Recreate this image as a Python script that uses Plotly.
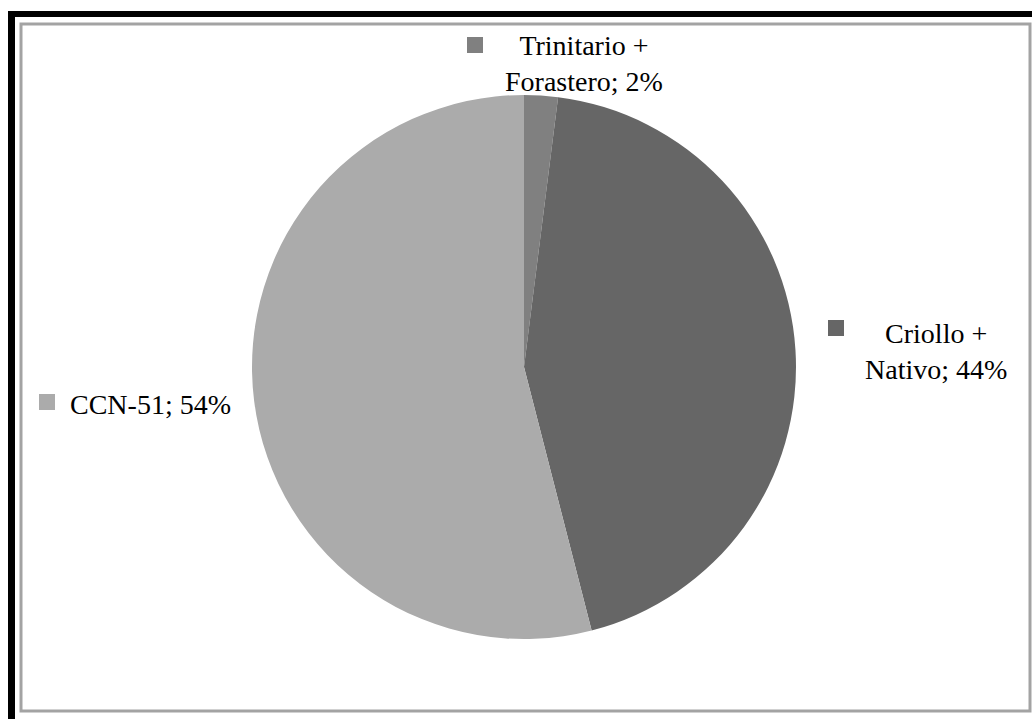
import plotly.graph_objects as go

# Cocoa variety shares
varieties = ["Trinitario +<br>Forastero", "Criollo +<br>Nativo", "CCN-51"]
shares = [2, 44, 54]
slice_colors = ["#808080", "#666666", "#ababab"]

W, H = 1032, 719


def px(x):
    return x / W


def py(y):
    return 1 - y / H


fig = go.Figure(
    go.Pie(
        labels=varieties,
        values=shares,
        sort=False,
        direction="clockwise",
        rotation=0,
        marker=dict(colors=slice_colors, line=dict(width=0)),
        textinfo="none",
        hoverinfo="label+percent",
        domain=dict(x=[px(524 - 272), px(524 + 272)], y=[py(367 + 272), py(367 - 272)]),
        showlegend=False,
    )
)

font = dict(family="Liberation Serif, Times New Roman, serif", size=28, color="#000000")

# label placement: (text x, block centre y, align, key square centre x, key centre y)
label_pos = [
    (584, 64, "center", 475, 45),
    (936, 352, "center", 836, 328),
    (68, 404, "left", 47, 402),
]

shapes = [
    # outer dark frame (top and left edges)
    dict(type="rect", xref="paper", yref="paper", x0=px(8), x1=px(1032), y0=py(17), y1=py(11),
         fillcolor="#000000", line=dict(width=0), layer="above"),
    dict(type="rect", xref="paper", yref="paper", x0=px(8), x1=px(15), y0=py(719), y1=py(11),
         fillcolor="#000000", line=dict(width=0), layer="above"),
    # chart area border
    dict(type="rect", xref="paper", yref="paper", x0=px(21), x1=px(1030), y0=py(711), y1=py(24),
         fillcolor="rgba(0,0,0,0)", line=dict(color="#a3a3a3", width=3), layer="above"),
]

annotations = []
for name, val, col, (tx, ty, al, sx, sy) in zip(varieties, shares, slice_colors, label_pos):
    text = f"{name}; {val}%"
    annotations.append(dict(x=px(tx), y=py(ty), xref="paper", yref="paper", text=text,
                            showarrow=False, xanchor=al, yanchor="middle", align="center",
                            font=font))
    s = 8
    shapes.append(dict(type="rect", xref="paper", yref="paper", x0=px(sx - s), x1=px(sx + s),
                       y0=py(sy + s), y1=py(sy - s), fillcolor=col, line=dict(width=0)))

fig.update_layout(
    width=W,
    height=H,
    margin=dict(l=0, r=0, t=0, b=0),
    paper_bgcolor="#ffffff",
    plot_bgcolor="#ffffff",
    shapes=shapes,
    annotations=annotations,
)

fig.write_html("out.html")
